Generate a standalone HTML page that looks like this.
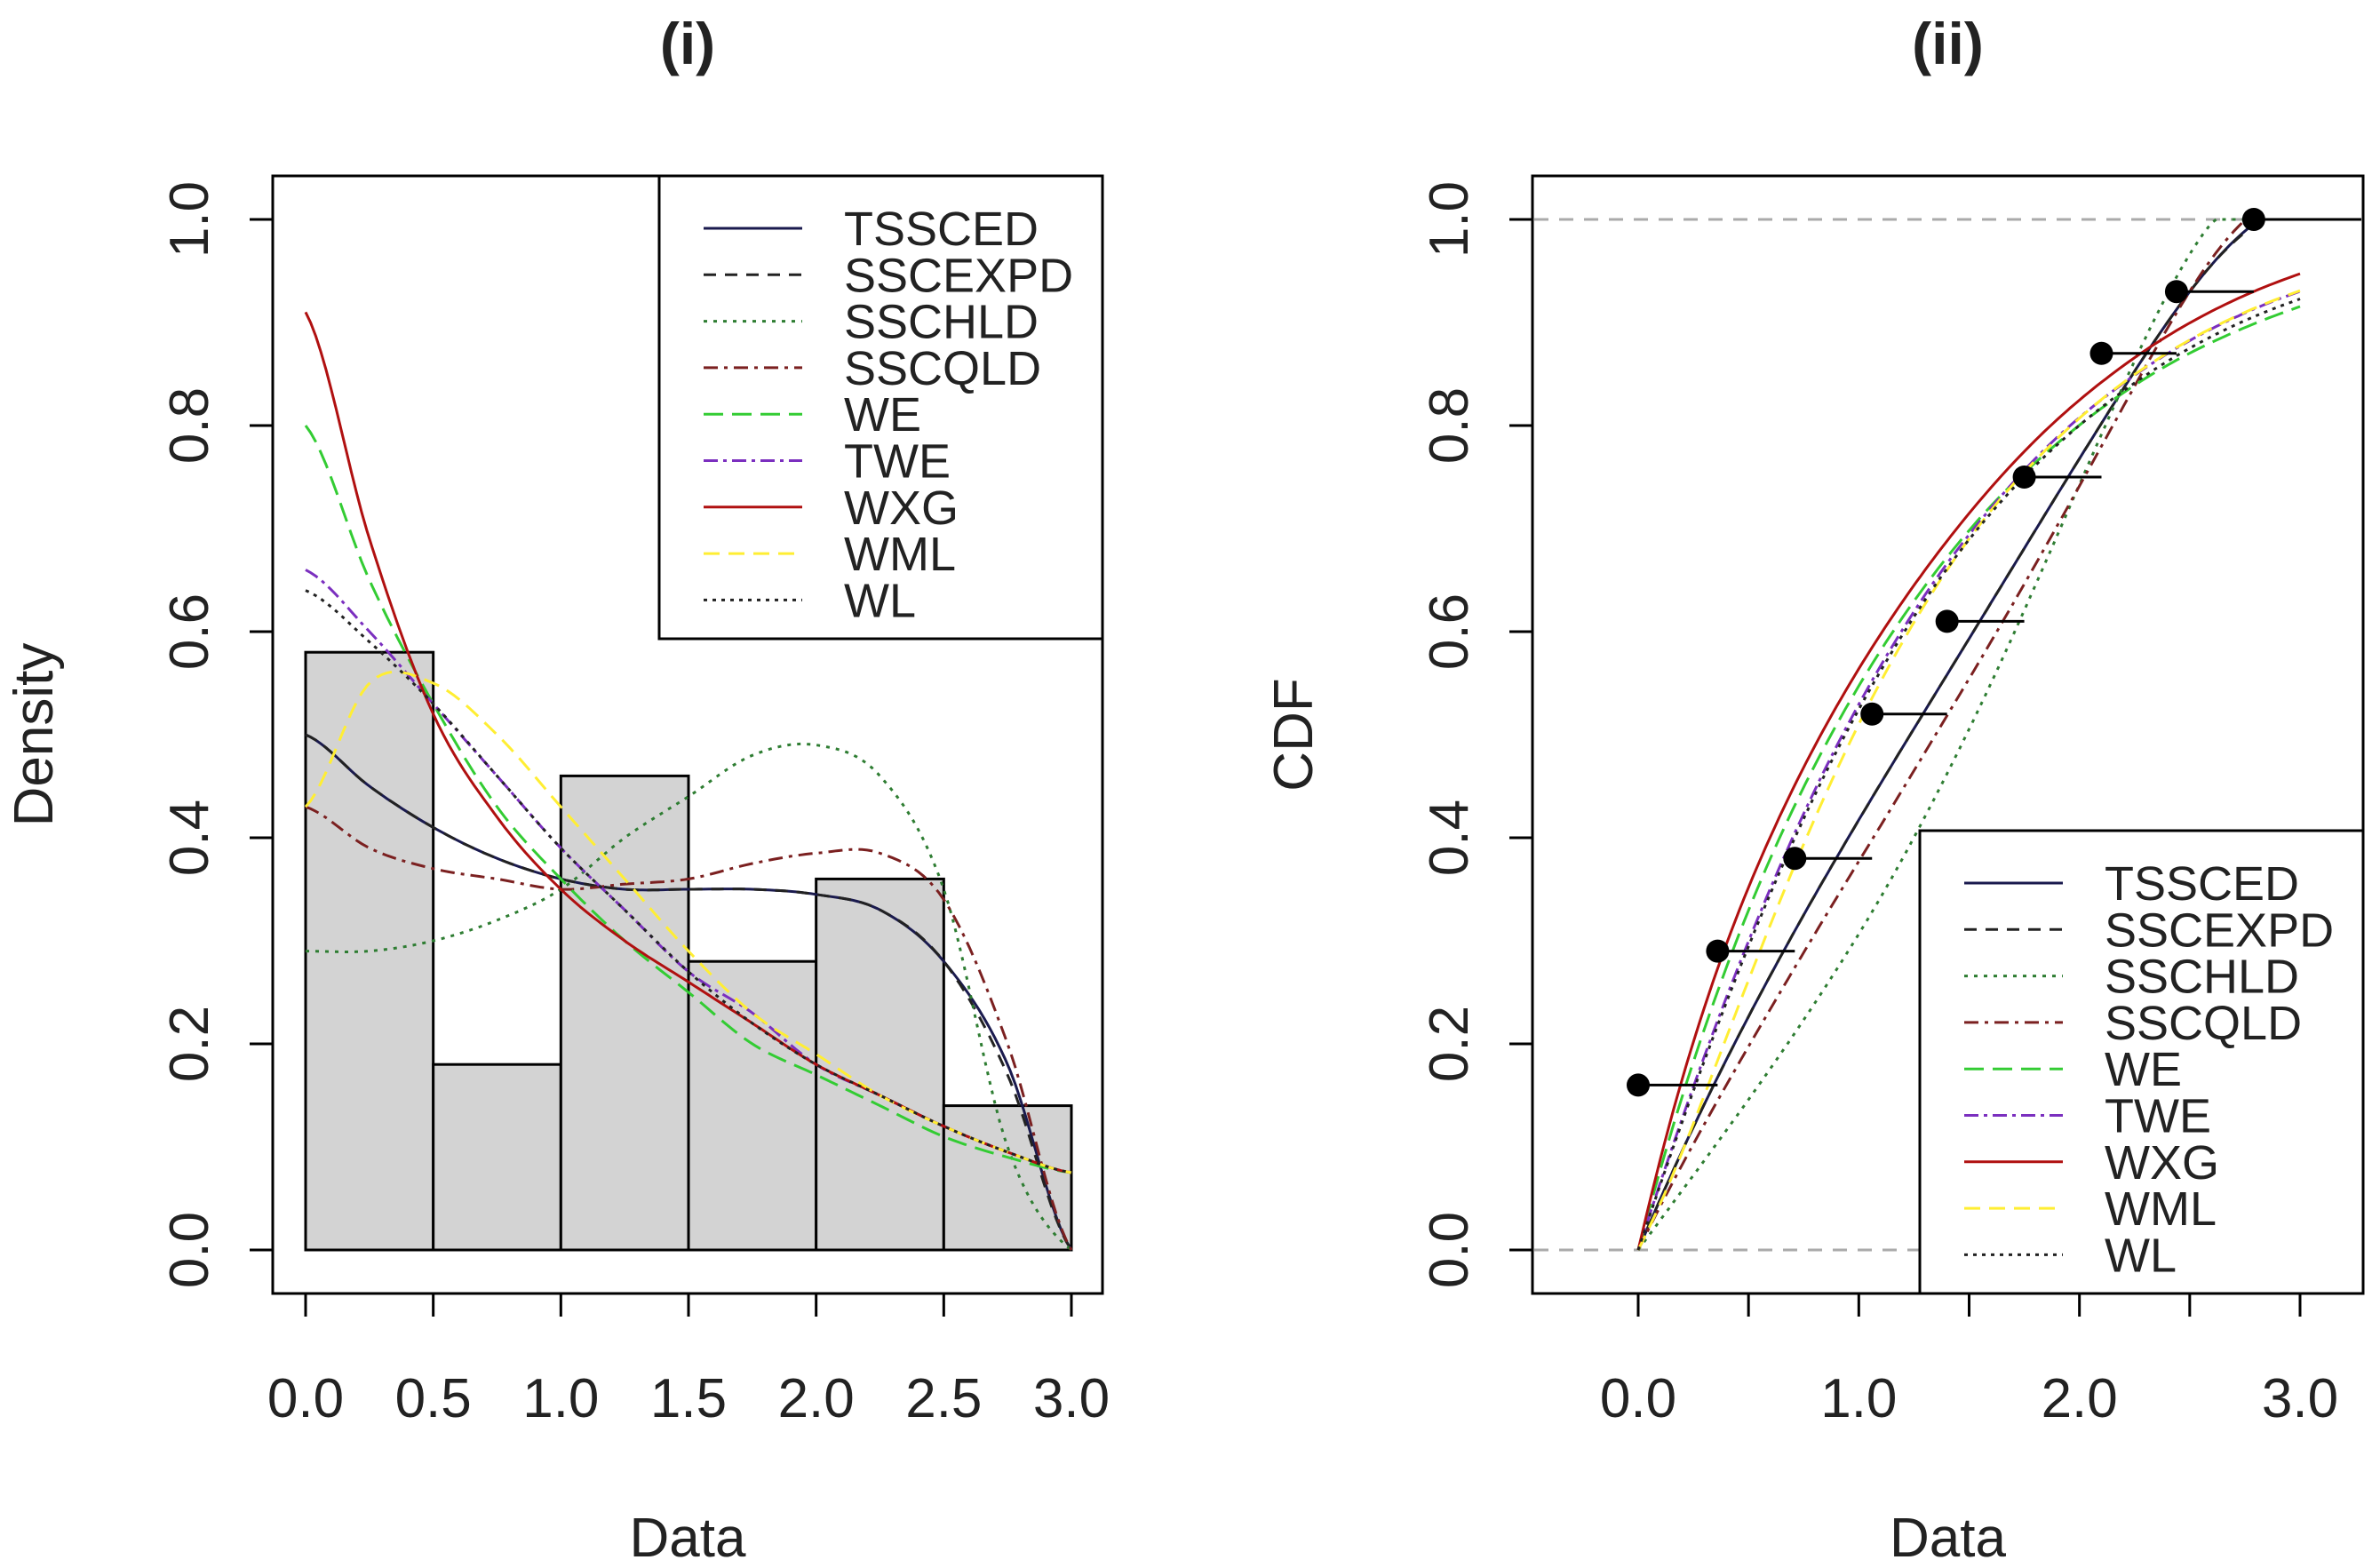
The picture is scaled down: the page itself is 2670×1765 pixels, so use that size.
<!DOCTYPE html>
<html><head><meta charset="utf-8"><style>
html,body{margin:0;padding:0;background:#fff;}
svg{display:block;font-family:"Liberation Sans",Arial,sans-serif;}
</style></head><body>
<svg id="chart" width="2670" height="1765" viewBox="0 0 2670 1765"></svg>
<script>
const breaks = [0,0.5,1,1.5,2,2.5,3];
const histDensity = [0.58,0.18,0.46,0.28,0.36,0.14];
const gridX = [0,0.25,0.5,0.75,1,1.25,1.5,1.75,2,2.25,2.5,2.75,3];
const seriesNames = ["TSSCED","SSCEXPD","SSCHLD","SSCQLD","WE","TWE","WXG","WML","WL"];
const dTSSCED = [0.50,0.45,0.41,0.38,0.36,0.35,0.35,0.35,0.345,0.33,0.28,0.18,0.0];
const dSSCEXPD = [0.50,0.45,0.41,0.38,0.36,0.35,0.35,0.35,0.345,0.33,0.28,0.17,0.0];
const dSSCHLD = [0.29,0.29,0.30,0.32,0.35,0.40,0.44,0.48,0.49,0.46,0.35,0.10,0.0];
const dSSCQLD = [0.43,0.39,0.37,0.36,0.35,0.355,0.36,0.375,0.385,0.385,0.34,0.20,0.0];
const dWE = [0.80,0.65,0.53,0.43,0.36,0.30,0.25,0.20,0.17,0.14,0.11,0.09,0.075];
const dTWE = [0.66,0.60,0.53,0.46,0.39,0.33,0.27,0.23,0.18,0.15,0.12,0.095,0.075];
const dWXG = [0.91,0.69,0.52,0.42,0.35,0.30,0.26,0.22,0.18,0.15,0.12,0.095,0.075];
const dWML = [0.43,0.55,0.55,0.50,0.43,0.36,0.29,0.23,0.19,0.15,0.12,0.095,0.075];
const dWL = [0.64,0.59,0.53,0.46,0.39,0.33,0.27,0.22,0.18,0.15,0.12,0.095,0.075];
const ecdfX = [0.0,0.36,0.71,1.06,1.40,1.75,2.10,2.44,2.79];
const ecdfY = [0.16,0.29,0.38,0.52,0.61,0.75,0.87,0.93,1.0];
const xTicksL = [0,0.5,1,1.5,2,2.5,3];
const xTickLabelsL = ["0.0","0.5","1.0","1.5","2.0","2.5","3.0"];
const xTicksR = [0,0.5,1,1.5,2,2.5,3];
const xTickLabelsR = ["0.0","","1.0","","2.0","","3.0"];
const yTicks = [0,0.2,0.4,0.6,0.8,1.0];
const yTickLabels = ["0.0","0.2","0.4","0.6","0.8","1.0"];

const dens = [dTSSCED,dSSCEXPD,dSSCHLD,dSSCQLD,dWE,dTWE,dWXG,dWML,dWL];
const colors = ["#1a1a4e","#222","#2e7d32","#7b2020","#33cc33","#7b2fbf","#b01010","#ffee33","#222"];
const dashes = ["","14,10","4,7","16,7,4,7","22,10","16,6,4,6","","18,10","4,6"];

const NS="http://www.w3.org/2000/svg";
const svg=document.getElementById('chart');
function mk(tag,attrs,parent){const e=document.createElementNS(NS,tag);for(const k in attrs)e.setAttribute(k,attrs[k]);(parent||svg).appendChild(e);return e;}

const Y0=1407,Y1=247;
function sy(v){return Y0+(Y1-Y0)*v;}
function sxL(v){return 344+v*(1206-344)/3;}
function sxR(v){return 1844+v*(2589-1844)/3;}

function interp(arr,x){
  const h=0.25; let i=Math.min(Math.floor(x/h),arr.length-2); const t=(x-i*h)/h;
  const p0=arr[Math.max(i-1,0)],p1=arr[i],p2=arr[i+1],p3=arr[Math.min(i+2,arr.length-1)];
  return 0.5*((2*p1)+(-p0+p2)*t+(2*p0-5*p1+4*p2-p3)*t*t+(-p0+3*p1-3*p2+p3)*t*t*t);
}

function panel(sx,xTicks,xLabs,box,ylab,title,gname){
  const g=mk('g',{});
  
  
  const b=mk('rect',{x:box[0],y:box[1],width:box[2]-box[0],height:box[3]-box[1],fill:'none',stroke:'#000','stroke-width':3},g);
  
  const xa=mk('g',{},g);
  mk('line',{x1:sx(xTicks[0]),x2:sx(xTicks[xTicks.length-1]),y1:box[3],y2:box[3],stroke:'#000','stroke-width':3},xa);
  xTicks.forEach((t,i)=>{
    mk('line',{x1:sx(t),x2:sx(t),y1:box[3],y2:box[3]+26,stroke:'#000','stroke-width':3},xa);
    if(xLabs[i]){const tx=mk('text',{x:sx(t),y:1595,'font-size':62,'text-anchor':'middle',fill:'#222'},xa);tx.textContent=xLabs[i];
      }
  });
  const ya=mk('g',{},g);
  yTicks.forEach((t,i)=>{
    mk('line',{x1:box[0],x2:box[0]-26,y1:sy(t),y2:sy(t),stroke:'#000','stroke-width':3},ya);
    const tx=mk('text',{x:0,y:0,'font-size':62,'text-anchor':'middle',fill:'#222',transform:`translate(${box[0]-95},${sy(t)}) rotate(-90) translate(0,22)`},ya);
    tx.textContent=yTickLabels[i];
  });
  const xl=mk('text',{x:(box[0]+box[2])/2,y:1752,'font-size':62,'text-anchor':'middle',fill:'#222'},g);xl.textContent='Data';
  
  const yl=mk('text',{x:0,y:0,'font-size':62,'text-anchor':'middle',fill:'#222',transform:`translate(${box[0]-270},${(box[1]+box[3])/2}) rotate(-90) translate(0,22)`},g);yl.textContent=ylab;
  
  const tt=mk('text',{x:(box[0]+box[2])/2,y:72,'font-size':66,'font-weight':'bold','text-anchor':'middle',fill:'#222'},g);tt.textContent=title;
  
  return g;
}
function legend(x,y,w,h){
  const g=mk('g',{});
  mk('rect',{x:x,y:y,width:w,height:h,fill:'#fff',stroke:'#000','stroke-width':3},g);
  seriesNames.forEach((n,i)=>{
    const yy=y+59+i*52.3;
    const e=mk('g',{},g);
    mk('line',{x1:x+50,x2:x+161,y1:yy,y2:yy,stroke:colors[i],'stroke-width':3,'stroke-dasharray':dashes[i]},e);
    const t=mk('text',{x:x+208,y:yy+19,'font-size':54,fill:'#222'},e);t.textContent=n;
  });
}

// Panel (i)
const gL=panel(sxL,xTicksL,xTickLabelsL,[307,198,1241,1456],'Density','(i)','density-panel');
histDensity.forEach((d,i)=>{
  const r=mk('rect',{x:sxL(breaks[i]),y:sy(d),width:sxL(breaks[i+1])-sxL(breaks[i]),height:sy(0)-sy(d),fill:'#d3d3d3',stroke:'#000','stroke-width':3},gL);
  
});
dens.forEach((arr,k)=>{
  let p='';for(let x=0;x<=3.0001;x+=0.02){p+=(p?'L':'M')+sxL(x).toFixed(1)+','+sy(Math.max(0,interp(arr,Math.min(x,3)))).toFixed(1);}
  const pa=mk('path',{d:p,fill:'none',stroke:colors[k],'stroke-width':3,'stroke-dasharray':dashes[k]},gL);
  
});
legend(742,198,499,521);

// Panel (ii)
const gR=panel(sxR,xTicksR,xTickLabelsR,[1725,198,2660,1456],'CDF','(ii)','cdf-panel');
[0,1].forEach(v=>{const l=mk('line',{x1:1727,x2:2658,y1:sy(v),y2:sy(v),stroke:'#aaa','stroke-width':3,'stroke-dasharray':'16,12'},gR);
  });
dens.forEach((arr,k)=>{
  let c=0,p='M'+sxR(0)+','+sy(0),prev=interp(arr,0);
  for(let x=0.02;x<=3.0001;x+=0.02){const v=Math.max(0,interp(arr,Math.min(x,3)));c+=0.01*(prev+v);prev=v;p+='L'+sxR(x).toFixed(1)+','+sy(Math.min(c,1)).toFixed(1);}
  const pa=mk('path',{d:p,fill:'none',stroke:colors[k],'stroke-width':3,'stroke-dasharray':dashes[k]},gR);
  
});
ecdfX.forEach((x,i)=>{
  const xe=i<ecdfX.length-1?ecdfX[i+1]:3.3;
  const s=mk('line',{x1:sxR(x),x2:Math.min(sxR(xe),2658),y1:sy(ecdfY[i]),y2:sy(ecdfY[i]),stroke:'#000','stroke-width':3},gR);
  
  const c=mk('circle',{cx:sxR(x),cy:sy(ecdfY[i]),r:13,fill:'#000'},gR);
  
});
legend(2161,935,499,521);
</script>
</body></html>
